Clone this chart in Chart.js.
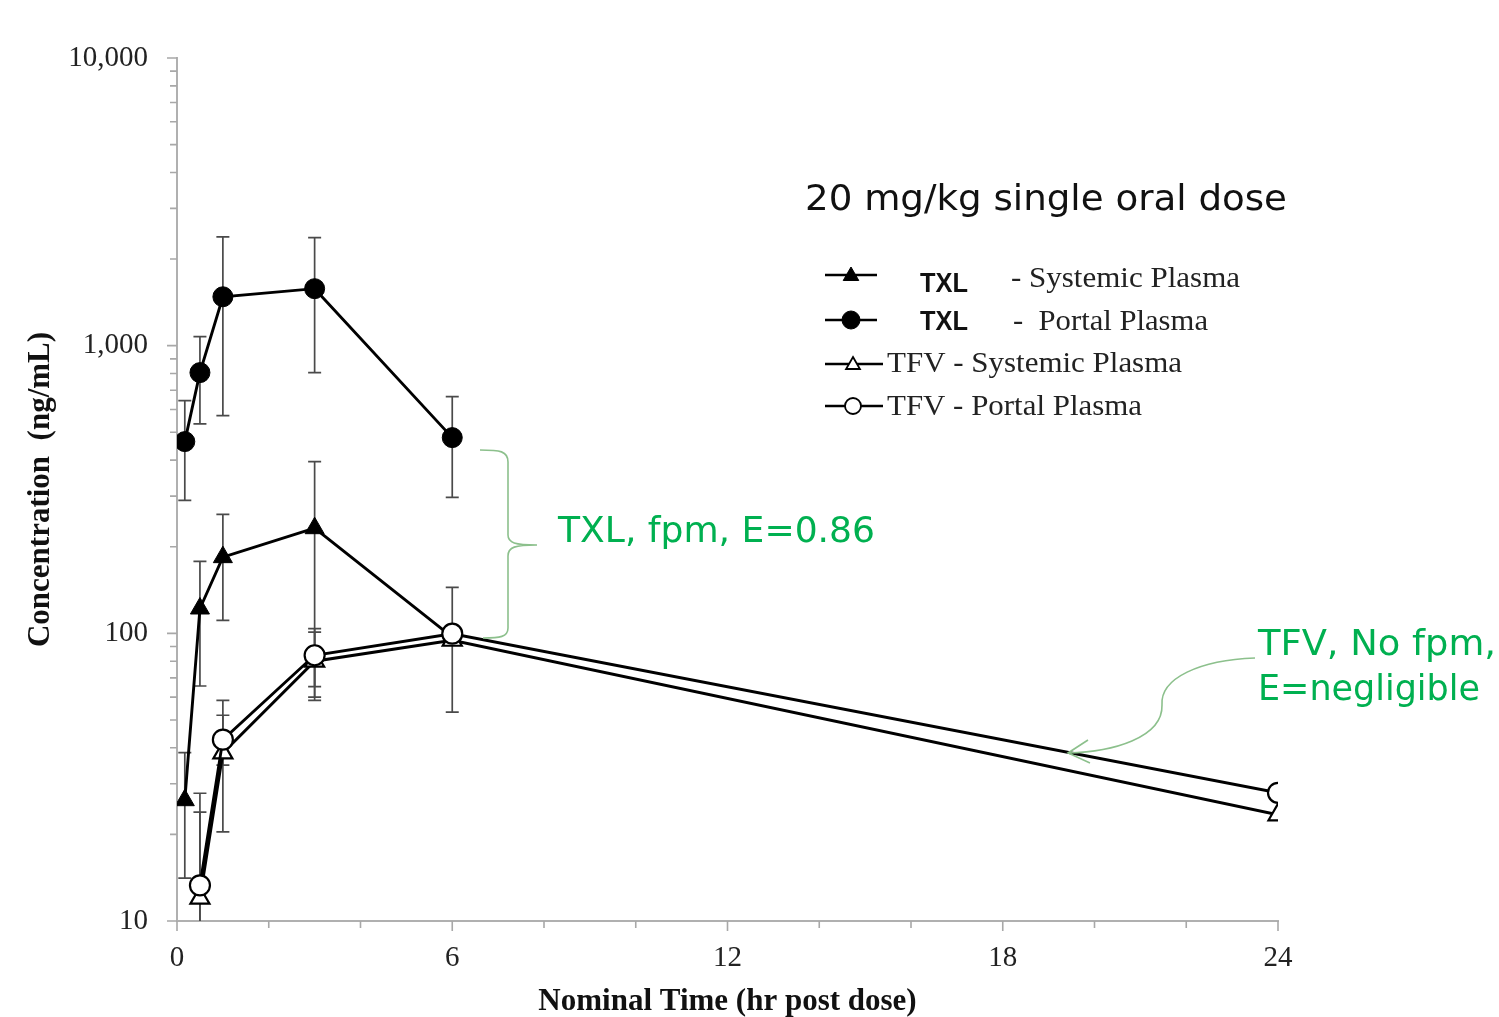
<!DOCTYPE html>
<html>
<head>
<meta charset="utf-8">
<script src="https://cdn.jsdelivr.net/npm/chart.js@4.4.1/dist/chart.umd.min.js"></script>
<style>
  html, body { margin: 0; padding: 0; background: #fff; }
  #wrap { width: 1499px; height: 1017px; position: relative; }
</style>
</head>
<body>
<div id="wrap"><canvas id="c" width="1499" height="1017"></canvas></div>
<script>
// ---------- data ----------
const timesTXL = [0.17, 0.5, 1, 3, 6];
const txlSystemic   = [26.3, 122, 184, 232, 97];
const txlSystemicHi = [38.5, 178, 259, 395, null];
const txlSystemicLo = [14.1, 65.6, 111, 60, null];
const txlPortal   = [464, 806, 1479, 1578, 479];
const txlPortalHi = [644, 1075, 2390, 2373, 665];
const txlPortalLo = [290, 535, 571, 806, 297];

const timesTFV = [0.5, 1, 3, 6, 24];
const tfvSystemic   = [12.0, 38.4, 80, 94.6, 23.4];
const tfvSystemicHi = [23.9, 51.9, 101, null, null];
const tfvSystemicLo = [9, 20.4, 58.5, null, null];
const tfvPortal   = [13.3, 42.7, 83.9, 99.7, 27.9];
const tfvPortalHi = [27.8, 58.5, 103.8, 144.5, null];
const tfvPortalLo = [9, 34.8, 65.3, 53.2, null];

const xTicks = [0, 6, 12, 18, 24];
const xTickLabels = ['0', '6', '12', '18', '24'];
const xMinorTicks = [2, 4, 8, 10, 14, 16, 20, 22];
const yTicks = [10, 100, 1000, 10000];
const yTickLabels = ['10', '100', '1,000', '10,000'];
const yMinorMultipliers = [2, 3, 4, 5, 6, 7, 8, 9];

const chartTitle = '20 mg/kg single oral dose';
const xTitle = 'Nominal Time (hr post dose)';
const yTitle = 'Concentration  (ng/mL)';
const legendRows = [
  { bold: 'TXL', rest: '- Systemic Plasma' },
  { bold: 'TXL', rest: '-  Portal Plasma' },
  { bold: '', rest: 'TFV - Systemic Plasma' },
  { bold: '', rest: 'TFV - Portal Plasma' }
];
const noteTXL = 'TXL, fpm, E=0.86';
const noteTFV1 = 'TFV, No fpm,';
const noteTFV2 = 'E=negligible';

// ---------- helpers ----------
const pts = (xs, ys) => xs.map((x, i) => ({ x: x, y: ys[i] }));
const GREEN = '#00B050';

function fitText(ctx, text, x, y, w, font, color) {
  ctx.save();
  ctx.font = font;
  ctx.textBaseline = 'alphabetic';
  ctx.textAlign = 'left';
  const m = ctx.measureText(text).width;
  ctx.translate(x, y);
  ctx.scale(w / m, 1);
  ctx.fillStyle = color;
  ctx.fillText(text, 0, 0);
  ctx.restore();
}

function marker(ctx, style, x, y, r, fill) {
  ctx.save();
  ctx.beginPath();
  if (style === 'circle') {
    ctx.arc(x, y, r, 0, Math.PI * 2);
  } else {
    const a = Math.PI * 2 / 3;
    ctx.moveTo(x, y - r);
    ctx.lineTo(x + Math.sin(a) * r, y - Math.cos(a) * r);
    ctx.lineTo(x + Math.sin(2 * a) * r, y - Math.cos(2 * a) * r);
    ctx.closePath();
  }
  ctx.fillStyle = fill ? '#000' : '#fff';
  ctx.fill();
  ctx.lineWidth = fill ? 1 : 1.8;
  ctx.strokeStyle = '#000';
  ctx.stroke();
  ctx.restore();
}

// ---------- plugins ----------
const errorBars = {
  id: 'errorBars',
  beforeDatasetsDraw(chart) {
    const { ctx, chartArea: a, scales: { x, y } } = chart;
    ctx.save();
    ctx.strokeStyle = '#4a4a4a';
    ctx.lineWidth = 1.7;
    chart.data.datasets.forEach(ds => {
      ds.data.forEach((p, i) => {
        const hi = ds.errHi[i], lo = ds.errLo[i];
        if (hi == null || lo == null) return;
        const px = x.getPixelForValue(p.x);
        let yh = y.getPixelForValue(hi), yl = y.getPixelForValue(lo);
        const capH = yh >= a.top, capL = yl <= a.bottom;
        yh = Math.max(yh, a.top); yl = Math.min(yl, a.bottom);
        ctx.beginPath();
        ctx.moveTo(px, yh); ctx.lineTo(px, yl);
        if (capH) { ctx.moveTo(px - 6.5, yh); ctx.lineTo(px + 6.5, yh); }
        if (capL) { ctx.moveTo(px - 6.5, yl); ctx.lineTo(px + 6.5, yl); }
        ctx.stroke();
      });
    });
    ctx.restore();
  }
};

const axisTicks = {
  id: 'axisTicks',
  afterDraw(chart) {
    const { ctx, chartArea: a, scales: { x, y } } = chart;
    ctx.save();
    ctx.strokeStyle = '#a8a8a8';
    ctx.lineWidth = 1.6;
    ctx.beginPath();
    xTicks.forEach(v => { const p = x.getPixelForValue(v); ctx.moveTo(p, a.bottom); ctx.lineTo(p, a.bottom + 10); });
    xMinorTicks.forEach(v => { const p = x.getPixelForValue(v); ctx.moveTo(p, a.bottom); ctx.lineTo(p, a.bottom + 7); });
    yTicks.forEach(v => { const p = y.getPixelForValue(v); ctx.moveTo(a.left, p); ctx.lineTo(a.left - 10, p); });
    for (let d = 10; d < 10000; d *= 10) {
      yMinorMultipliers.forEach(m => { const p = y.getPixelForValue(d * m); ctx.moveTo(a.left, p); ctx.lineTo(a.left - 7, p); });
    }
    ctx.stroke();
    ctx.restore();
  }
};

const annotations = {
  id: 'annotations',
  afterDraw(chart) {
    const ctx = chart.ctx;
    // title
    fitText(ctx, chartTitle, 805, 210, 482, '36px "DejaVu Sans"', '#111');

    // legend
    const rowY = [275, 320, 364, 406];
    const baseY = [287, 330, 372, 415];
    const styles = ['triangle', 'circle', 'triangle', 'circle'];
    const fills = [true, true, false, false];
    const restX = [1011, 1013, 887, 887];
    const restW = [229, 195, 295, 255];
    ctx.save();
    ctx.strokeStyle = '#000';
    ctx.lineWidth = 2.5;
    legendRows.forEach((r, i) => {
      const x2 = i < 2 ? 877 : 883;
      ctx.beginPath(); ctx.moveTo(825, rowY[i]); ctx.lineTo(x2, rowY[i]); ctx.stroke();
      marker(ctx, styles[i], i < 2 ? 851 : 853, rowY[i] + (styles[i] === 'triangle' ? 1 : 0), i < 2 ? 9 : 8, fills[i]);
      if (r.bold) fitText(ctx, r.bold, 920, baseY[i] + (i === 0 ? 5 : 0), 48, 'bold 28px "Liberation Sans"', '#111');
      fitText(ctx, r.rest, restX[i], baseY[i], restW[i], '30px "Liberation Serif"', '#222');
    });
    ctx.restore();

    // brace
    ctx.save();
    ctx.strokeStyle = '#8cc08c';
    ctx.lineWidth = 1.6;
    ctx.beginPath();
    ctx.moveTo(480, 450);
    ctx.bezierCurveTo(500, 450, 508, 451, 508, 462);
    ctx.lineTo(508, 535);
    ctx.bezierCurveTo(508, 543, 515, 545, 537, 545);
    ctx.moveTo(537, 545);
    ctx.bezierCurveTo(515, 545, 508, 547, 508, 556);
    ctx.lineTo(508, 628);
    ctx.bezierCurveTo(508, 637, 500, 638, 483, 638);
    ctx.stroke();

    // arrow
    ctx.beginPath();
    ctx.moveTo(1255, 658);
    ctx.bezierCurveTo(1200, 660, 1160, 678, 1162, 705);
    ctx.bezierCurveTo(1163, 738, 1112, 752, 1068, 753);
    ctx.moveTo(1088, 740); ctx.lineTo(1068, 753); ctx.lineTo(1090, 763);
    ctx.stroke();
    ctx.restore();

    fitText(ctx, noteTXL, 558, 542, 317, '36px "DejaVu Sans"', GREEN);
    fitText(ctx, noteTFV1, 1258, 655, 238, '35px "DejaVu Sans"', GREEN);
    fitText(ctx, noteTFV2, 1258, 700, 222, '35px "DejaVu Sans"', GREEN);
  }
};

// ---------- chart ----------
Chart.defaults.font.family = '"Liberation Serif", "Times New Roman", serif';
Chart.defaults.color = '#222';

const baseDs = { borderColor: '#000', borderWidth: 2.9, tension: 0, pointBorderColor: '#000', pointHoverRadius: 0 };

new Chart(document.getElementById('c'), {
  type: 'line',
  data: {
    datasets: [
      Object.assign({}, baseDs, { label: 'TFV - Portal Plasma', data: pts(timesTFV, tfvPortal), errHi: tfvPortalHi, errLo: tfvPortalLo,
        pointStyle: 'circle', pointRadius: 10, pointBackgroundColor: '#fff', pointBorderWidth: 2.2 }),
      Object.assign({}, baseDs, { label: 'TFV - Systemic Plasma', data: pts(timesTFV, tfvSystemic), errHi: tfvSystemicHi, errLo: tfvSystemicLo,
        pointStyle: 'triangle', pointRadius: 11, pointBackgroundColor: '#fff', pointBorderWidth: 2.2 }),
      Object.assign({}, baseDs, { label: 'TXL - Portal Plasma', data: pts(timesTXL, txlPortal), errHi: txlPortalHi, errLo: txlPortalLo,
        pointStyle: 'circle', pointRadius: 10, pointBackgroundColor: '#000', pointBorderWidth: 1 }),
      Object.assign({}, baseDs, { label: 'TXL - Systemic Plasma', data: pts(timesTXL, txlSystemic), errHi: txlSystemicHi, errLo: txlSystemicLo,
        pointStyle: 'triangle', pointRadius: 11, pointBackgroundColor: '#000', pointBorderWidth: 1 })
    ]
  },
  options: {
    responsive: false,
    devicePixelRatio: 1,
    animation: false,
    events: [],
    layout: { padding: { left: 25, right: 221, top: 58, bottom: 0 } },
    plugins: { legend: { display: false }, tooltip: { enabled: false } },
    scales: {
      x: {
        type: 'linear', min: 0, max: 24,
        afterBuildTicks: s => { s.ticks = xTicks.map(v => ({ value: v })); },
        afterFit: s => { s.height = 96; },
        grid: { display: false, drawTicks: false },
        border: { display: true, color: '#b0b0b0', width: 2 },
        ticks: { autoSkip: false, maxRotation: 0, padding: 20, color: '#222',
          font: { size: 29 }, callback: v => xTickLabels[xTicks.indexOf(v)] },
        title: { display: true, text: xTitle, color: '#111', padding: 0,
          font: { size: 31, weight: 'bold', lineHeight: 1.0 } }
      },
      y: {
        type: 'logarithmic', min: 10, max: 10000,
        afterBuildTicks: s => { s.ticks = yTicks.map(v => ({ value: v })); },
        afterFit: s => { s.width = 152; },
        grid: { display: false, drawTicks: false },
        border: { display: true, color: '#b0b0b0', width: 2 },
        ticks: { autoSkip: false, padding: 29, color: '#222',
          font: { size: 29 }, callback: v => yTickLabels[yTicks.indexOf(v)] },
        title: { display: true, text: yTitle, color: '#111', padding: 0,
          font: { size: 31, weight: 'bold', lineHeight: 1.0 } }
      }
    }
  },
  plugins: [errorBars, axisTicks, annotations]
});
</script>
</body>
</html>
